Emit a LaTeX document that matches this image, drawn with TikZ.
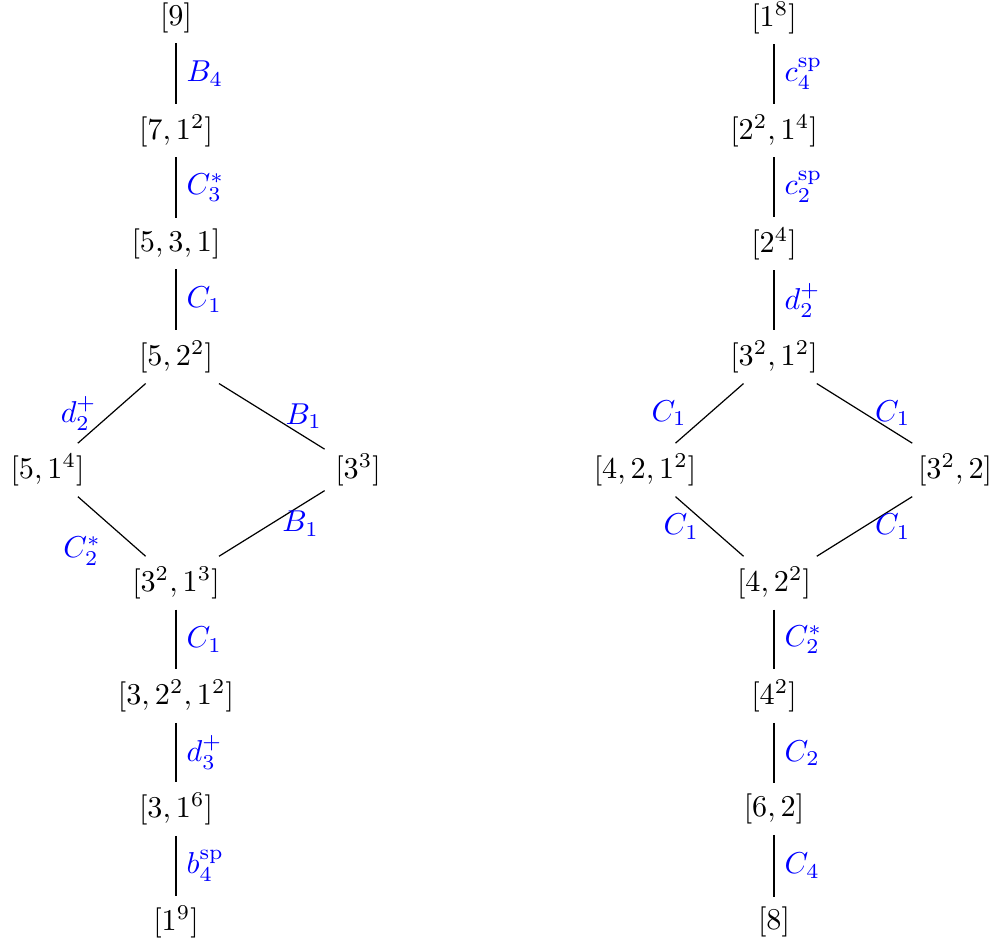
\documentclass[tikz,border=0pt]{standalone}
\begin{document}
\begin{tikzpicture}[x=0.33113pt, y=-0.33113pt,
  part/.style={text=black},
  lbl/.style={text=blue},
  conn/.style={draw=black, line width=0.4pt}]
\useasboundingbox (0,0) rectangle (1005,944);
% left lattice
\node[part] (L0) at (176,17.5) {$[9]$};
\node[part] (L1) at (176,130.6) {$[7,1^2]$};
\node[part] (L2) at (176,243.7) {$[5,3,1]$};
\node[part] (L3) at (176,356.8) {$[5,2^2]$};
\node[part] (L4a) at (47.5,469.9) {$[5,1^4]$};
\node[part] (L4b) at (358,469.9) {$[3^3]$};
\node[part] (L5) at (176,583) {$[3^2,1^3]$};
\node[part] (L6) at (176,696.1) {$[3,2^2,1^2]$};
\node[part] (L7) at (176,809.2) {$[3,1^6]$};
\node[part] (L8) at (176,922.3) {$[1^9]$};
% right lattice
\node[part] (R0) at (774,17.5) {$[1^8]$};
\node[part] (R1) at (774,130.6) {$[2^2,1^4]$};
\node[part] (R2) at (774,243.7) {$[2^4]$};
\node[part] (R3) at (774,356.8) {$[3^2,1^2]$};
\node[part] (R4a) at (645,469.9) {$[4,2,1^2]$};
\node[part] (R4b) at (955,469.9) {$[3^2,2]$};
\node[part] (R5) at (774,583) {$[4,2^2]$};
\node[part] (R6) at (774,696.1) {$[4^2]$};
\node[part] (R7) at (774,809.2) {$[6,2]$};
\node[part] (R8) at (774,922.3) {$[8]$};
% left edges
\draw[conn] (L0) -- (L1) node[lbl,midway,right] {$B_4$};
\draw[conn] (L1) -- (L2) node[lbl,midway,right] {$C_3^*$};
\draw[conn] (L2) -- (L3) node[lbl,midway,right] {$C_1$};
\draw[conn] (L3) -- (L4a) node[lbl,midway,left,xshift=-1.5pt] {$d_2^+$};
\draw[conn] (L3) -- (L4b) node[lbl,midway,right,xshift=1pt] {$B_1$};
\draw[conn] (L4a) -- (L5) node[lbl,midway,below left] {$C_2^*$};
\draw[conn] (L4b) -- (L5) node[lbl,midway,right] {$B_1$};
\draw[conn] (L5) -- (L6) node[lbl,midway,right] {$C_1$};
\draw[conn] (L6) -- (L7) node[lbl,midway,right] {$d_3^+$};
\draw[conn] (L7) -- (L8) node[lbl,midway,right] {$b_4^{\mathrm{sp}}$};
% right edges
\draw[conn] (R0) -- (R1) node[lbl,midway,right] {$c_4^{\mathrm{sp}}$};
\draw[conn] (R1) -- (R2) node[lbl,midway,right] {$c_2^{\mathrm{sp}}$};
\draw[conn] (R2) -- (R3) node[lbl,midway,right] {$d_2^+$};
\draw[conn] (R3) -- (R4a) node[lbl,midway,left,xshift=-4pt] {$C_1$};
\draw[conn] (R3) -- (R4b) node[lbl,midway,right] {$C_1$};
\draw[conn] (R4a) -- (R5) node[lbl,midway,left] {$C_1$};
\draw[conn] (R4b) -- (R5) node[lbl,midway,right] {$C_1$};
\draw[conn] (R5) -- (R6) node[lbl,midway,right] {$C_2^*$};
\draw[conn] (R6) -- (R7) node[lbl,midway,right] {$C_2$};
\draw[conn] (R7) -- (R8) node[lbl,midway,right] {$C_4$};
\end{tikzpicture}
\end{document}
